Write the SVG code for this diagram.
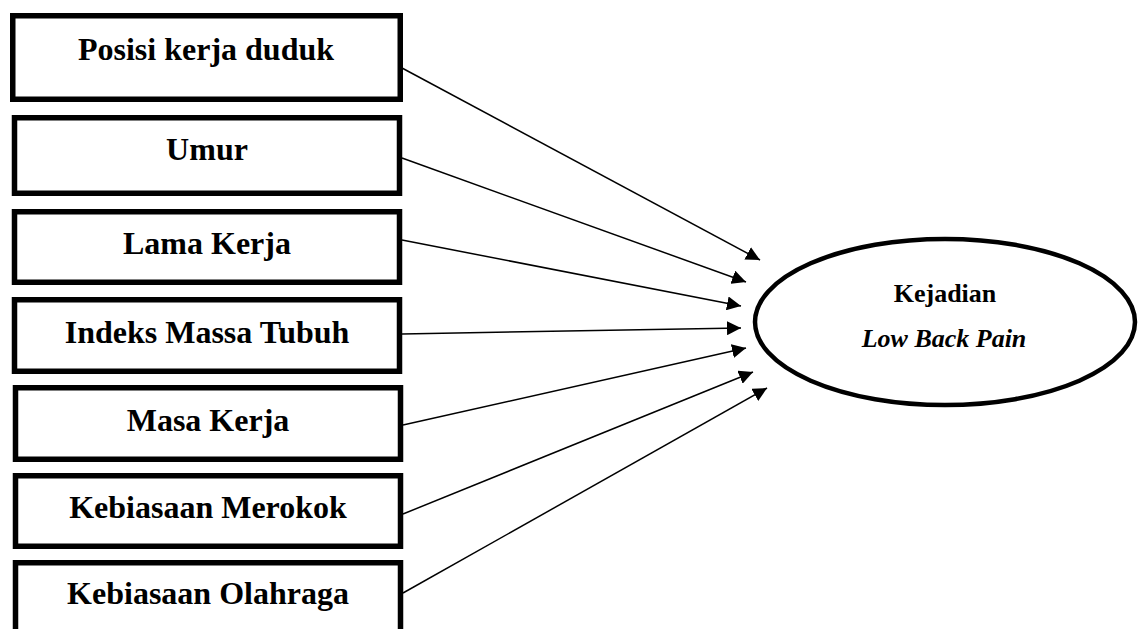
<svg xmlns="http://www.w3.org/2000/svg" width="1142" height="629" viewBox="0 0 1142 629">
<style>
.box{fill:#fff;stroke:#000;stroke-width:5.5}
.lbl{font-family:"Liberation Serif","Times New Roman",serif;font-weight:bold;font-size:32px;text-anchor:middle;fill:#000}
.elab{font-family:"Liberation Serif","Times New Roman",serif;font-weight:bold;font-size:26px;text-anchor:middle;fill:#000}
.conn{stroke:#000;stroke-width:1.5;fill:none;marker-end:url(#ah)}
</style>
<defs>
<marker id="ah" markerUnits="userSpaceOnUse" markerWidth="15" markerHeight="14" refX="14" refY="7" orient="auto">
<path d="M0,0 L14,7 L0,14 z" fill="#000"/>
</marker>
</defs>
<rect width="1142" height="629" fill="#fff"/>
<g id="connectors">
<line class="conn" x1="402" y1="68" x2="760" y2="260"/>
<line class="conn" x1="402" y1="158" x2="746" y2="282"/>
<line class="conn" x1="402" y1="240" x2="741" y2="306"/>
<line class="conn" x1="402" y1="334" x2="741" y2="328"/>
<line class="conn" x1="403" y1="425" x2="746" y2="348"/>
<line class="conn" x1="403" y1="514" x2="753" y2="372"/>
<line class="conn" x1="403" y1="593" x2="767" y2="388"/>
</g>
<g id="n1"><rect class="box" x="12.75" y="15.75" width="387.5" height="83.5"/><text class="lbl" x="206" y="60">Posisi kerja duduk</text></g>
<g id="n2"><rect class="box" x="14.5" y="117.75" width="385" height="75.5"/><text class="lbl" x="207" y="160">Umur</text></g>
<g id="n3"><rect class="box" x="14.5" y="211.75" width="385" height="70.5"/><text class="lbl" x="207" y="254">Lama Kerja</text></g>
<g id="n4"><rect class="box" x="14.5" y="299.75" width="385" height="71.5"/><text class="lbl" x="207" y="343">Indeks Massa Tubuh</text></g>
<g id="n5"><rect class="box" x="15.5" y="387.75" width="385" height="71.5"/><text class="lbl" x="208" y="431">Masa Kerja</text></g>
<g id="n6"><rect class="box" x="15.5" y="475.75" width="385" height="70.5"/><text class="lbl" x="208" y="518">Kebiasaan Merokok</text></g>
<g id="n7"><rect class="box" x="15.5" y="562.75" width="385" height="90"/><text class="lbl" x="208" y="604">Kebiasaan Olahraga</text></g>
<g id="target"><ellipse cx="945" cy="322" rx="190" ry="83" fill="#fff" stroke="#000" stroke-width="4.5"/>
<text class="elab" x="945" y="302">Kejadian</text>
<text class="elab" x="944" y="347" font-style="italic">Low Back Pain</text></g>
</svg>
